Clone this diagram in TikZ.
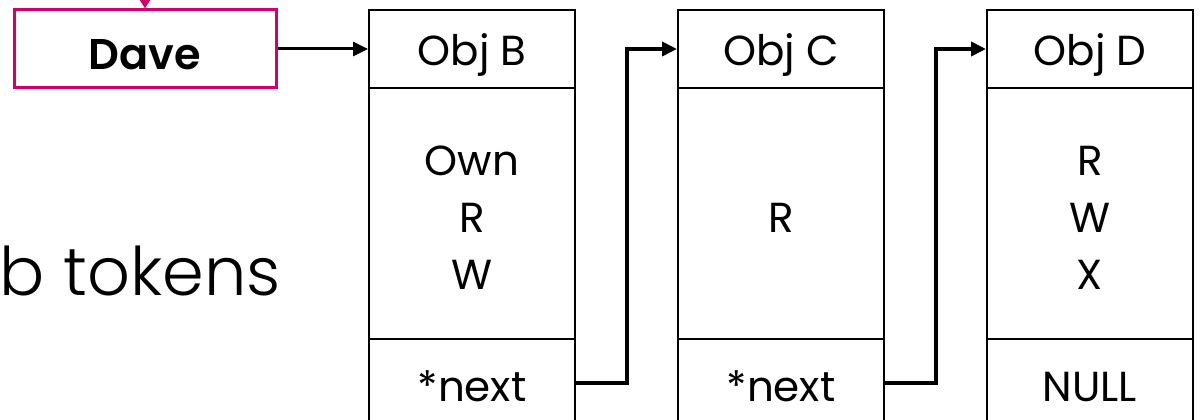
\documentclass[tikz,border=0pt]{standalone}
\usepackage{fontspec}
\setmainfont{Poppins}
\newfontfamily\lightfont{Poppins Light}
\newfontfamily\semibold{Poppins SemiBold}
\usetikzlibrary{arrows.meta}
\definecolor{accent}{HTML}{D1006C}
\tikzset{
  cell/.style={draw=black, line width=2pt, minimum width=206pt, inner sep=0pt},
  celltext/.style={anchor=base, inner sep=0pt, font=\fontsize{42}{57}\selectfont},
  conn/.style={draw=black, line width=4pt, -{Triangle[length=15pt,width=14pt]}},
  person/.style={draw=accent, line width=3pt, minimum width=262pt, minimum height=78pt, inner sep=0pt},
}
\begin{document}
\begin{tikzpicture}[x=1pt,y=-1pt]
\useasboundingbox (0,0) rectangle (1203,420);
\clip (0,0) rectangle (1203,420);
\fill[white] (0,0) rectangle (1203,420);

% user box and its incoming pointer
\node[person] (dave) at (145,49) {};
\node[anchor=base, inner sep=0pt, font=\fontsize{43}{48}\semibold] (davetxt) at (145,70) {Dave};
\coordinate (above) at (145,-30);
\draw[draw=accent, line width=3pt, -{Triangle[length=12pt,width=14pt]}] (above) -- (dave.north);

% caption on the left
\node[anchor=base east, inner sep=0pt, font=\fontsize{67}{75}\lightfont] (cap) at (281,295) {eb tokens};

% object B
\node[cell, minimum height=78pt] (Bh) at (472,49) {};
\node[cell, minimum height=251pt] (Bm) at (472,213.5) {};
\node[cell, minimum height=88pt] (Bb) at (472,383) {};
\node[celltext] (Bt) at (472,66) {Obj B};
\node[celltext] (B1) at (472,175) {Own};
\node[celltext] (B2) at (472,232) {R};
\node[celltext] (B3) at (472,289) {W};
\node[celltext] (Bn) at (472,401) {*next};
% object C
\node[cell, minimum height=78pt] (Ch) at (781,49) {};
\node[cell, minimum height=251pt] (Cm) at (781,213.5) {};
\node[cell, minimum height=88pt] (Cb) at (781,383) {};
\node[celltext] (Ct) at (781,66) {Obj C};
\node[celltext] (C2) at (781,232) {R};
\node[celltext] (Cn) at (781,401) {*next};
% object D
\node[cell, minimum height=78pt] (Dh) at (1090,49) {};
\node[cell, minimum height=251pt] (Dm) at (1090,213.5) {};
\node[cell, minimum height=88pt] (Db) at (1090,383) {};
\node[celltext] (Dt) at (1090,66) {Obj D};
\node[celltext] (D1) at (1090,175) {R};
\node[celltext] (D2) at (1090,232) {W};
\node[celltext] (D3) at (1090,289) {X};
\node[celltext] (Dn) at (1090,401) {NULL};

% pointers
\draw[conn, line width=3pt] (dave.east) -- (Bh.west);
\draw[conn] (Bb.east) -- ++(51,0) |- (Ch.west);
\draw[conn] (Cb.east) -- ++(51,0) |- (Dh.west);
\end{tikzpicture}
\end{document}
